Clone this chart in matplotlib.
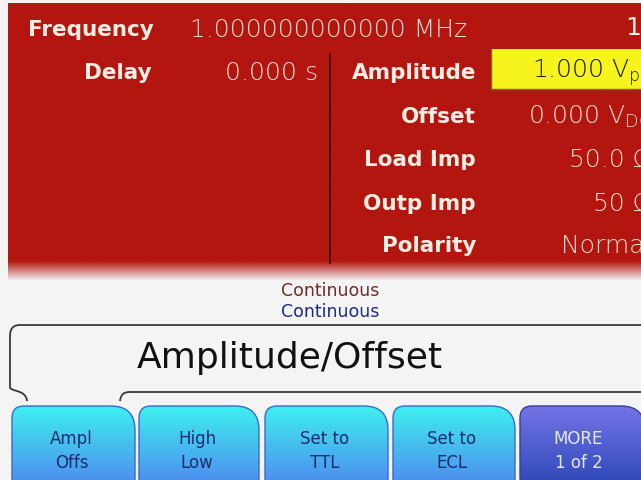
import numpy as np
import matplotlib.pyplot as plt
from matplotlib.patches import Rectangle, PathPatch
from matplotlib.path import Path
from matplotlib.colors import to_rgb

# screen contents
freq_label = 'Frequency'
freq_value = '1.000000000000 MHz'
channel = '1'
delay_label = 'Delay'
delay_value = '0.000 s'
param_labels = ['Amplitude', 'Offset', 'Load Imp', 'Outp Imp', 'Polarity']
param_values = ['1.000 V$_\\mathregular{pp}$', '0.000 V$_\\mathregular{DC}$',
                '50.0 \u03a9', '50 \u03a9', 'Normal']
trigger_lines = ['Continuous', 'Continuous']
menu_title = 'Amplitude/Offset'
softkeys = ['Ampl\nOffs', 'High\nLow', 'Set to\nTTL', 'Set to\nECL', 'MORE\n1 of 2']

BG = '#f4f4f4'
RED = '#b3160f'
LABEL_C = '#f7ede2'
VALUE_C = '#f4dcd0'
VAL_FS = 18
LAB_FS = 15.5

W, H = 641, 481
fig = plt.figure(figsize=(W / 100, H / 100), dpi=100)
fig.patch.set_facecolor(BG)
ax = fig.add_axes([0, 0, 1, 1])
ax.set_xlim(0, W)
ax.set_ylim(H, 0)
ax.axis('off')


def vgrad(c_top, c_bot, n=100, split=0.0):
    # vertical gradient image, solid c_top until split then blend
    t = np.linspace(0, 1, n)
    t = np.clip((t - split) / (1 - split), 0, 1)
    a, b = np.array(to_rgb(c_top)), np.array(to_rgb(c_bot))
    return (a[None, :] * (1 - t[:, None]) + b[None, :] * t[:, None])[:, None, :]


# red parameter panel, fading out at its bottom
ax.imshow(vgrad(RED, BG, 300, split=0.93), extent=(8, W, 282, 4),
          aspect='auto', interpolation='bilinear', zorder=1)
ax.plot([330, 330], [55, 264], color='#3a0c08', lw=1.2, zorder=2)

# highlighted field
ax.add_patch(Rectangle((491, 50), 160, 40, facecolor='#f6f41c',
                       edgecolor='none', zorder=2))
ax.plot([491, 491, 645], [50, 90, 90], color='#7a6a18', lw=1.0, zorder=2)

ax.text(28, 30, freq_label, color=LABEL_C, fontsize=LAB_FS, fontweight='bold',
        va='center', ha='left', zorder=3)
ax.text(190, 30, freq_value, color=VALUE_C, fontsize=VAL_FS, fontweight='light',
        va='center', ha='left', zorder=3)
ax.text(641, 28, channel, color=LABEL_C, fontsize=VAL_FS,
        va='center', ha='right', zorder=3)

ax.text(152, 73, delay_label, color=LABEL_C, fontsize=LAB_FS, fontweight='bold',
        va='center', ha='right', zorder=3)
ax.text(318, 73, delay_value, color=VALUE_C, fontsize=VAL_FS, fontweight='light',
        va='center', ha='right', zorder=3)

rows_y = [73, 117, 160, 204, 246]
for i, (lab, val) in enumerate(zip(param_labels, param_values)):
    y = rows_y[i]
    ax.text(476, y, lab, color=LABEL_C, fontsize=LAB_FS, fontweight='bold',
            va='center', ha='right', zorder=3)
    col = '#1a1a1a' if i == 0 else VALUE_C
    ax.text(652, y, val, color=col, fontsize=VAL_FS, fontweight='light',
            va='center', ha='right', zorder=3)

# trigger status
ax.text(330, 291, trigger_lines[0], color='#6e2a26', fontsize=12.5,
        ha='center', va='center', zorder=3)
ax.text(330, 312, trigger_lines[1], color='#1c2a86', fontsize=12.5,
        ha='center', va='center', zorder=3)

# menu title frame with tab pointing at the first softkey
M, L, C4 = Path.MOVETO, Path.LINETO, Path.CURVE4
frame = Path([(650, 326), (20, 326), (10, 326), (10, 334), (10, 338),
              (10, 388), (10, 393), (26, 390), (27, 402)],
             [M, L, C4, C4, C4, L, C4, C4, C4])
ax.add_patch(PathPatch(frame, facecolor='none', edgecolor='#383838',
                       lw=1.3, zorder=3))
frame2 = Path([(120, 402), (121, 395), (124, 393), (130, 393), (650, 393)],
              [M, C4, C4, C4, L])
ax.add_patch(PathPatch(frame2, facecolor='none', edgecolor='#383838',
                       lw=1.3, zorder=3))
ax.text(137, 358, menu_title, color='#111111', fontsize=26,
        ha='left', va='center', zorder=3)


def key_path(x0, x1, y0, y1, rl, rr):
    Q = Path.CURVE3
    verts = [(x0, y1), (x0, y0 + rl), (x0, y0), (x0 + rl, y0),
             (x1 - rr, y0), (x1, y0), (x1, y0 + rr), (x1, y1), (x0, y1)]
    codes = [M, L, Q, Q, L, Q, Q, L, Path.CLOSEPOLY]
    return Path(verts, codes)


# softkeys
key_x = [(12, 135), (139, 259), (265, 388), (393, 515), (520, 645)]
for i, ((x0, x1), lab) in enumerate(zip(key_x, softkeys)):
    last = i == len(softkeys) - 1
    if last:
        top_c, bot_c, txt_c, edge_c = '#7474e6', '#2a46b4', '#e4eaf4', '#3040a0'
    else:
        top_c, bot_c, txt_c, edge_c = '#3ef0ee', '#4f86f0', '#1c2a70', '#3a6ad0'
    p = PathPatch(key_path(x0, x1, 407, 490, 12, 24), facecolor='none',
                  edgecolor=edge_c, lw=1.0, zorder=5)
    ax.add_patch(p)
    im = ax.imshow(vgrad(top_c, bot_c, 100), extent=(x0, x1, 490, 407),
                   aspect='auto', interpolation='bilinear', zorder=4)
    im.set_clip_path(p)
    top, bottom = lab.split('\n')
    cx = (x0 + min(x1, W)) / 2 - 2
    ax.text(cx, 439, top, color=txt_c, fontsize=12, ha='center',
            va='center', zorder=6)
    ax.text(cx, 463, bottom, color=txt_c, fontsize=12, ha='center',
            va='center', zorder=6)

ax.set_xlim(0, W)
ax.set_ylim(H, 0)
fig.savefig('out.png', dpi=100, facecolor=BG)
